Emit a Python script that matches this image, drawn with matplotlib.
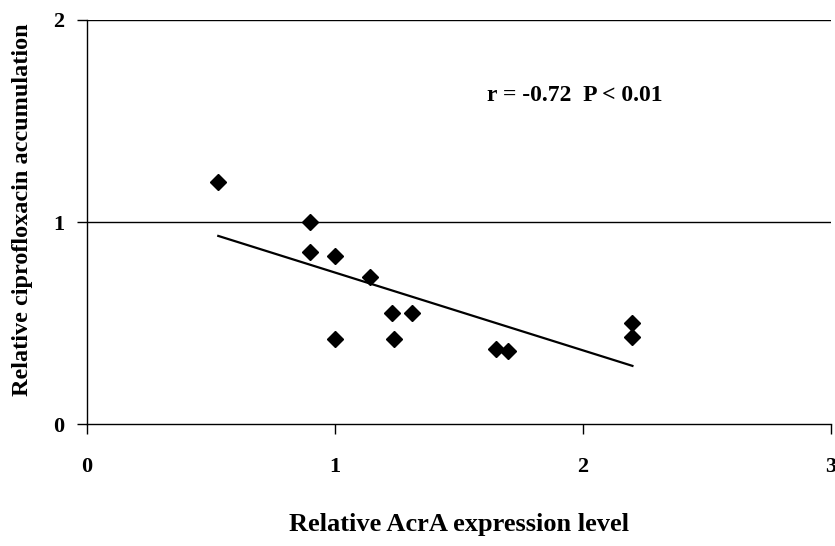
import numpy as np
import matplotlib
matplotlib.use("Agg")
import matplotlib.pyplot as plt

# values
acra = [0.53, 0.90, 0.90, 1.00, 1.14, 1.23, 1.31, 1.00, 1.24, 1.65, 1.70, 2.20, 2.20]
cipro = [1.20, 1.00, 0.85, 0.83, 0.73, 0.55, 0.55, 0.42, 0.42, 0.37, 0.36, 0.50, 0.43]
x_ticks = [0, 1, 2, 3]
y_ticks = [0, 1, 2]
stat_text = "r = -0.72  P < 0.01"

plt.rcParams['font.family'] = ['Liberation Serif', 'DejaVu Serif']
plt.rcParams['font.weight'] = 'bold'

fig = plt.figure(figsize=(8.35, 5.46), dpi=100)
ax = fig.add_axes([0.104, 0.2234, 0.891, 0.740])

# Gridlines at 1 and 2
for yv in y_ticks[1:]:
    ax.axhline(yv, color='black', linewidth=1.0, zorder=1)

ax.plot(acra, cipro, linestyle='none', marker='D', markersize=8,
        color='black', zorder=3)

# Linear trend line
slope, icpt = np.polyfit(acra, cipro, 1)
xl = np.array([min(acra), max(acra)])
ax.plot(xl, slope * xl + icpt, color='black', linewidth=1.6, zorder=2)

ax.set_xlim(0, 3)
ax.set_ylim(0, 2)
ax.set_xticks(x_ticks)
ax.set_yticks(y_ticks)
ax.tick_params(axis='both', direction='out', length=7, width=1,
               labelsize=16, colors='black')
ax.tick_params(axis='x', pad=17)
ax.tick_params(axis='y', pad=9)

for side in ['top', 'right']:
    ax.spines[side].set_visible(False)
for side in ['left', 'bottom']:
    ax.spines[side].set_linewidth(1.0)

ax.set_xlabel('Relative AcrA expression level', fontsize=19,
              fontweight='bold', labelpad=26)
ax.set_ylabel('Relative ciprofloxacin accumulation', fontsize=17.5,
              fontweight='bold')
ax.yaxis.set_label_coords(-0.073, 0.53)

ax.text(1.613, 1.625, stat_text, fontsize=17, fontweight='bold',
        ha='left', va='center')

fig.savefig('out.png', dpi=100)
